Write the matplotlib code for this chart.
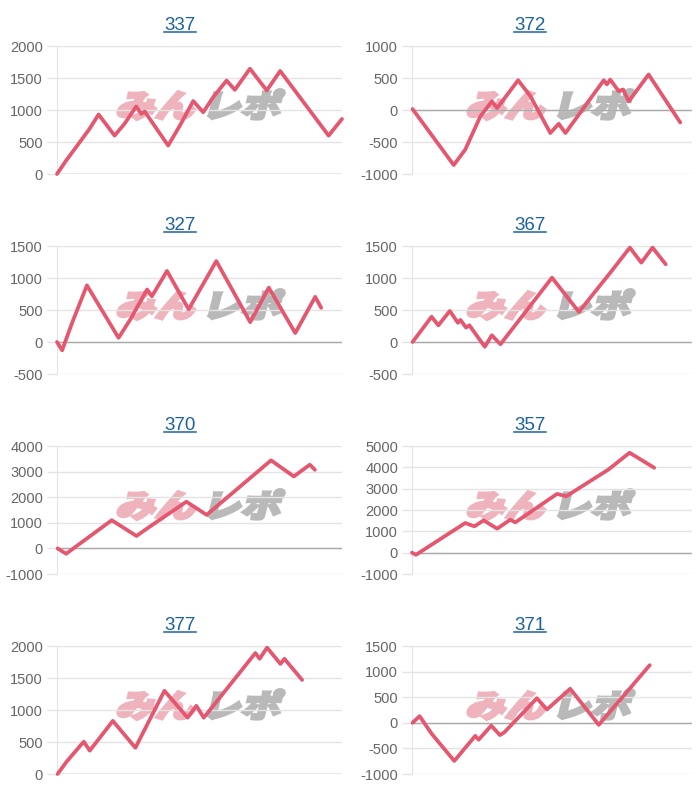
import matplotlib
matplotlib.use("Agg")
import matplotlib.pyplot as plt
from matplotlib.font_manager import FontProperties
from matplotlib.patches import PathPatch
from matplotlib.textpath import TextPath
from matplotlib.transforms import Affine2D
from matplotlib.lines import Line2D

plt.rcParams['font.family'] = ['Liberation Sans', 'DejaVu Sans']

# machine numbers (panel titles)
titles = ["337", "372", "327", "367", "370", "357", "377", "371"]

# x = position along the chart width (0-100), y = cumulative difference
x_337 = [0, 3.2, 6.7, 11.4, 14.6, 20.2, 23.7, 27.8, 29.6, 30.8, 39.0, 43.1, 47.8, 51.3,
         54.8, 59.5, 62.4, 67.7, 73.6, 78.3, 95.3, 100]
y_337 = [0, 210, 420, 705, 930, 600, 785, 1055, 940, 975, 445, 755, 1140, 965,
         1200, 1460, 1315, 1645, 1305, 1610, 600, 860]

x_372 = [0.2, 14.9, 19.0, 24.4, 28.5, 30.4, 37.9, 42.3, 49.4, 52.4, 54.8, 68.5, 69.6,
         70.8, 73.8, 75.4, 77.4, 84.5, 95.8]
y_372 = [15, -860, -620, -100, 135, 30, 465, 215, -360, -215, -360, 465, 400,
         475, 295, 320, 135, 555, -195]

x_327 = [0, 1.8, 5.3, 10.5, 21.6, 25.7, 31.6, 33.3, 38.6, 46.2, 55.9, 67.8, 74.3,
         83.6, 90.6, 92.7]
y_327 = [0, -130, 300, 885, 65, 350, 820, 715, 1110, 510, 1265, 310, 850,
         140, 705, 535]

x_367 = [0.2, 7.0, 9.4, 13.5, 16.4, 17.3, 19.3, 20.5, 26.0, 28.5, 31.6, 50.0, 59.6,
         71.3, 77.8, 81.9, 85.9, 90.6]
y_367 = [0, 395, 260, 485, 300, 345, 225, 260, -75, 105, -35, 1005, 470,
         1110, 1475, 1240, 1475, 1215]

x_370 = [0.2, 3.2, 19.2, 27.9, 31.7, 45.4, 52.5, 75.1, 83.1, 88.7, 90.5]
y_370 = [0, -210, 1100, 485, 785, 1825, 1310, 3440, 2810, 3270, 3070]

x_357 = [0, 1.4, 19.0, 22.3, 25.6, 30.4, 35.1, 36.9, 51.8, 55.1, 70.2, 77.7, 86.5]
y_357 = [0, -100, 1390, 1235, 1515, 1125, 1545, 1420, 2755, 2645, 3900, 4685, 3980]

x_377 = [0.2, 3.5, 9.4, 11.5, 19.6, 27.5, 37.7, 45.8, 48.9, 51.5, 69.6, 71.1, 73.7,
         78.4, 79.8, 86.0]
y_377 = [0, 200, 505, 365, 830, 410, 1300, 880, 1065, 880, 1890, 1800, 1975,
         1720, 1800, 1470]

x_371 = [0.2, 2.7, 7.1, 15.1, 22.6, 23.8, 28.3, 31.4, 32.9, 44.6, 48.2, 56.5, 66.7, 84.9]
y_371 = [0, 130, -220, -745, -255, -330, -55, -240, -190, 480, 260, 665, -40, 1125]

yticks_337 = [0, 500, 1000, 1500, 2000]
yticks_372 = [-1000, -500, 0, 500, 1000]
yticks_327 = [-500, 0, 500, 1000, 1500]
yticks_367 = [-500, 0, 500, 1000, 1500]
yticks_370 = [-1000, 0, 1000, 2000, 3000, 4000]
yticks_357 = [-1000, 0, 1000, 2000, 3000, 4000, 5000]
yticks_377 = [0, 500, 1000, 1500, 2000]
yticks_371 = [-1000, -500, 0, 500, 1000, 1500]

panels = [
    (x_337, y_337, yticks_337), (x_372, y_372, yticks_372),
    (x_327, y_327, yticks_327), (x_367, y_367, yticks_367),
    (x_370, y_370, yticks_370), (x_357, y_357, yticks_357),
    (x_377, y_377, yticks_377), (x_371, y_371, yticks_371),
]

W, H = 700, 800
LINE = '#e5566f'
GRID = '#e4e4e4'
ZERO = '#aaaaaa'
LINK = '#1b62a3'

fig = plt.figure(figsize=(7, 8), dpi=100)
renderer = fig.canvas.get_renderer()
logo_font = FontProperties(family='Noto Sans CJK JP', weight='bold')


def add_logo(x0, y_base):
    # watermark "みんレポ", pink + gray, slanted and heavy
    for txt, dx, col in [("みん", 0, '#eeb3bc'), ("レポ", 86, '#b9b9b9')]:
        tp = TextPath((0, 0), txt, size=33, prop=logo_font)
        tr = Affine2D().scale(1.2, 0.95).skew_deg(14, 0).translate(x0 + dx, H - y_base)
        fig.add_artist(PathPatch(tp, transform=tr, facecolor=col, edgecolor=col,
                                 lw=2.6, joinstyle='miter', zorder=-5))


for i, (title, (xs, ys, ticks)) in enumerate(zip(titles, panels)):
    row, col = divmod(i, 2)
    off = 350 * col
    ax_l, ax_r = (57, 342) if col == 0 else (412, 692)
    top, bot = 46 + 200 * row, 174 + 200 * row
    ax = fig.add_axes([ax_l / W, 1 - bot / H, (ax_r - ax_l) / W, (bot - top) / H])
    ax.set_facecolor('none')

    ax.plot(xs, ys, color=LINE, lw=2.7, solid_joinstyle='round', solid_capstyle='round',
            zorder=3, clip_on=False)
    ax.set_xlim(0, 100)
    ax.set_ylim(ticks[0], ticks[-1])
    ax.set_yticks(ticks)
    ax.set_yticklabels([str(t) for t in ticks])
    ax.set_xticks([])
    ax.grid(axis='y', color=GRID, lw=1)
    ax.axhline(0, color=ZERO, lw=1, zorder=2)
    for s in ['top', 'right', 'bottom']:
        ax.spines[s].set_visible(False)
    ax.spines['left'].set_color(GRID)
    ax.tick_params(axis='y', length=7, width=1, color=GRID, labelcolor='#666666',
                   labelsize=10.5, pad=3)

    # linked title with underline
    t = fig.text((180 + off) / W, 1 - (30 + 200 * row) / H, title, ha='center',
                 va='baseline', color=LINK, fontsize=13.5)
    bb = t.get_window_extent(renderer)
    uy = 1 - (32 + 200 * row) / H
    fig.add_artist(Line2D([bb.x0 / W, bb.x1 / W], [uy, uy], color=LINK, lw=1.1))

    add_logo(115 + off, 117 + 200 * row)

fig.savefig("out.png", dpi=100, facecolor='white')
